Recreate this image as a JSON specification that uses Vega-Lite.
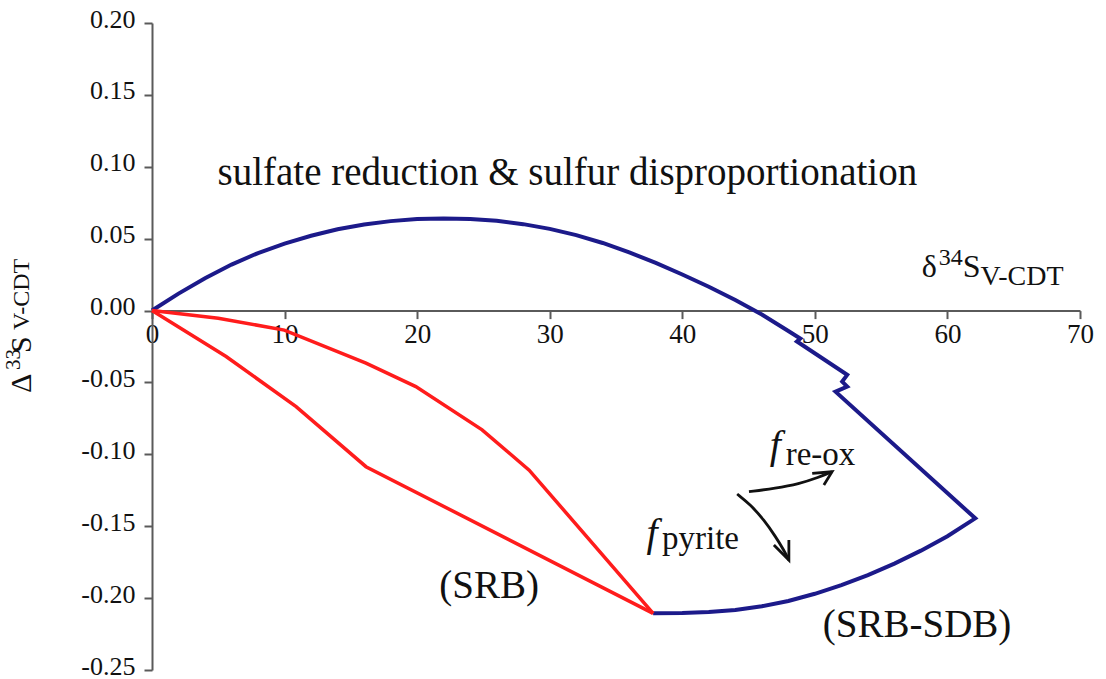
{
  "$schema": "https://vega.github.io/schema/vega-lite/v6.json",
  "width": 928,
  "height": 647,
  "autosize": {"type": "none"},
  "padding": {"left": 152, "top": 23, "right": 26, "bottom": 9},
  "background": "white",
  "config": {"view": {"stroke": null}, "font": "Liberation Serif"},
  "datasets": {
    "lines": [
      {"s": "blue", "i": 0, "x": 0, "y": 0},
      {"s": "blue", "i": 1, "x": 2, "y": 0.0118},
      {"s": "blue", "i": 2, "x": 4, "y": 0.0225},
      {"s": "blue", "i": 3, "x": 6, "y": 0.032},
      {"s": "blue", "i": 4, "x": 8, "y": 0.04},
      {"s": "blue", "i": 5, "x": 10, "y": 0.0465},
      {"s": "blue", "i": 6, "x": 12, "y": 0.052},
      {"s": "blue", "i": 7, "x": 14, "y": 0.0565},
      {"s": "blue", "i": 8, "x": 16, "y": 0.0598},
      {"s": "blue", "i": 9, "x": 18, "y": 0.0622},
      {"s": "blue", "i": 10, "x": 20, "y": 0.0636},
      {"s": "blue", "i": 11, "x": 22, "y": 0.0641},
      {"s": "blue", "i": 12, "x": 24, "y": 0.0637},
      {"s": "blue", "i": 13, "x": 26, "y": 0.0624},
      {"s": "blue", "i": 14, "x": 28, "y": 0.0601},
      {"s": "blue", "i": 15, "x": 30, "y": 0.0568},
      {"s": "blue", "i": 16, "x": 32, "y": 0.0525},
      {"s": "blue", "i": 17, "x": 34, "y": 0.047},
      {"s": "blue", "i": 18, "x": 36, "y": 0.0405},
      {"s": "blue", "i": 19, "x": 38, "y": 0.0331},
      {"s": "blue", "i": 20, "x": 40, "y": 0.0251},
      {"s": "blue", "i": 21, "x": 42, "y": 0.0166},
      {"s": "blue", "i": 22, "x": 44, "y": 0.0073},
      {"s": "blue", "i": 23, "x": 46, "y": -0.0027},
      {"s": "blue", "i": 24, "x": 48, "y": -0.0142},
      {"s": "blue", "i": 25, "x": 48.9, "y": -0.0195},
      {"s": "blue", "i": 26, "x": 48.65, "y": -0.0215},
      {"s": "blue", "i": 27, "x": 52.44, "y": -0.0447},
      {"s": "blue", "i": 28, "x": 52.06, "y": -0.0494},
      {"s": "blue", "i": 29, "x": 52.44, "y": -0.0529},
      {"s": "blue", "i": 30, "x": 51.56, "y": -0.0564},
      {"s": "blue", "i": 31, "x": 62.1, "y": -0.1445},
      {"s": "blue", "i": 32, "x": 60, "y": -0.157},
      {"s": "blue", "i": 33, "x": 58, "y": -0.167},
      {"s": "blue", "i": 34, "x": 56, "y": -0.176},
      {"s": "blue", "i": 35, "x": 54, "y": -0.184},
      {"s": "blue", "i": 36, "x": 52, "y": -0.191},
      {"s": "blue", "i": 37, "x": 50, "y": -0.197},
      {"s": "blue", "i": 38, "x": 48, "y": -0.202},
      {"s": "blue", "i": 39, "x": 46, "y": -0.2057},
      {"s": "blue", "i": 40, "x": 44, "y": -0.2082},
      {"s": "blue", "i": 41, "x": 42, "y": -0.2097},
      {"s": "blue", "i": 42, "x": 40, "y": -0.2104},
      {"s": "blue", "i": 43, "x": 37.8, "y": -0.2106},
      {"s": "red1", "i": 0, "x": 0, "y": 0},
      {"s": "red1", "i": 1, "x": 5, "y": -0.0053},
      {"s": "red1", "i": 2, "x": 9.98, "y": -0.0136},
      {"s": "red1", "i": 3, "x": 16.14, "y": -0.0366},
      {"s": "red1", "i": 4, "x": 19.9, "y": -0.0529},
      {"s": "red1", "i": 5, "x": 24.9, "y": -0.083},
      {"s": "red1", "i": 6, "x": 28.45, "y": -0.111},
      {"s": "red1", "i": 7, "x": 37.8, "y": -0.2106},
      {"s": "red2", "i": 0, "x": 0, "y": 0},
      {"s": "red2", "i": 1, "x": 5.59, "y": -0.032},
      {"s": "red2", "i": 2, "x": 10.87, "y": -0.0668},
      {"s": "red2", "i": 3, "x": 16.14, "y": -0.1086},
      {"s": "red2", "i": 4, "x": 37.8, "y": -0.2106},
      {"s": "arrow1", "i": 0, "x": 45.03, "y": -0.126},
      {"s": "arrow1", "i": 1, "x": 47.04, "y": -0.1236},
      {"s": "arrow1", "i": 2, "x": 48.79, "y": -0.1206},
      {"s": "arrow1", "i": 3, "x": 50.29, "y": -0.116},
      {"s": "arrow1", "i": 4, "x": 51.3, "y": -0.1121},
      {"s": "head1", "i": 0, "x": 49.8, "y": -0.1132},
      {"s": "head1", "i": 1, "x": 51.3, "y": -0.1121},
      {"s": "head1", "i": 2, "x": 50.68, "y": -0.1214},
      {"s": "arrow2", "i": 0, "x": 44.14, "y": -0.1276},
      {"s": "arrow2", "i": 1, "x": 45.16, "y": -0.1352},
      {"s": "arrow2", "i": 2, "x": 46.16, "y": -0.1456},
      {"s": "arrow2", "i": 3, "x": 47.04, "y": -0.1573},
      {"s": "arrow2", "i": 4, "x": 47.66, "y": -0.1666},
      {"s": "arrow2", "i": 5, "x": 48.04, "y": -0.1735},
      {"s": "head2", "i": 0, "x": 46.91, "y": -0.163},
      {"s": "head2", "i": 1, "x": 48.04, "y": -0.1735},
      {"s": "head2", "i": 2, "x": 48.04, "y": -0.1596}
    ],
    "notes": [
      {"role": "note", "t": "sulfate reduction & sulfur disproportionation", "x": 4.94, "y": 0.0874},
      {"role": "note", "t": "(SRB)", "x": 21.67, "y": -0.1996},
      {"role": "note", "t": "(SRB-SDB)", "x": 50.6, "y": -0.227},
      {"role": "xtitle", "t": "δ", "x": 58.07, "y": 0.0236},
      {"role": "xtitle", "t": "S", "x": 61.15, "y": 0.0236},
      {"role": "xsup", "t": "34", "x": 59.35, "y": 0.0317},
      {"role": "xsub", "t": "V-CDT", "x": 62.5, "y": 0.0178},
      {"role": "ytitle", "t": "Δ", "x": -9.11, "y": -0.0573},
      {"role": "ytitle", "t": "S", "x": -9.11, "y": -0.0295},
      {"role": "ysup", "t": "33", "x": -9.98, "y": -0.0413},
      {"role": "ysub", "t": "V-CDT", "x": -9.31, "y": -0.0135},
      {"role": "f", "t": "f", "x": 46.6, "y": -0.1025},
      {"role": "f", "t": "f", "x": 37.3, "y": -0.1638},
      {"role": "fsub", "t": "re-ox", "x": 47.8, "y": -0.1075},
      {"role": "fsub", "t": "pyrite", "x": 38.47, "y": -0.1659}
    ]
  },
  "encoding": {
    "x": {
      "field": "x",
      "type": "quantitative",
      "scale": {"domain": [0, 70], "nice": false, "zero": false},
      "axis": {
        "orient": "bottom",
        "offset": -359.4,
        "values": [0, 10, 20, 30, 40, 50, 60, 70],
        "title": null,
        "grid": false,
        "tickSize": 8,
        "tickWidth": 2,
        "domainWidth": 2,
        "domainColor": "#5a5a5a",
        "tickColor": "#5a5a5a",
        "labelFont": "Liberation Serif",
        "labelFontSize": 27,
        "labelColor": "#111111",
        "labelPadding": 3,
        "labelFlush": false,
        "labelOverlap": false
      }
    },
    "y": {
      "field": "y",
      "type": "quantitative",
      "scale": {"domain": [-0.25, 0.2], "nice": false, "zero": false},
      "axis": {
        "values": [-0.25, -0.2, -0.15, -0.1, -0.05, 0, 0.05, 0.1, 0.15, 0.2],
        "labelExpr": "datum.value < 0 ? '-' + format(-datum.value, '.2f') : format(datum.value, '.2f')",
        "title": null,
        "grid": false,
        "tickSize": 8,
        "tickWidth": 2,
        "domainWidth": 2,
        "domainColor": "#5a5a5a",
        "tickColor": "#5a5a5a",
        "labelFont": "Liberation Serif",
        "labelFontSize": 26,
        "labelOffset": -4,
        "labelColor": "#111111",
        "labelPadding": 9,
        "labelOverlap": false,
        "labelFlush": false
      }
    }
  },
  "layer": [
    {
      "data": {"name": "lines"},
      "transform": [{"filter": "datum.s === 'blue'"}],
      "mark": {"type": "line", "color": "#1c1a8a", "strokeWidth": 4, "strokeJoin": "miter"},
      "encoding": {"order": {"field": "i", "type": "quantitative"}}
    },
    {
      "data": {"name": "lines"},
      "transform": [{"filter": "datum.s === 'red1' || datum.s === 'red2'"}],
      "mark": {"type": "line", "color": "#ff1c1c", "strokeWidth": 3.5},
      "encoding": {"order": {"field": "i", "type": "quantitative"}, "detail": {"field": "s", "type": "nominal"}}
    },
    {
      "data": {"name": "lines"},
      "transform": [{"filter": "datum.s === 'arrow1' || datum.s === 'arrow2'"}],
      "mark": {"type": "line", "color": "#111111", "strokeWidth": 2.8, "interpolate": "basis"},
      "encoding": {"order": {"field": "i", "type": "quantitative"}, "detail": {"field": "s", "type": "nominal"}}
    },
    {
      "data": {"name": "lines"},
      "transform": [{"filter": "datum.s === 'head1' || datum.s === 'head2'"}],
      "mark": {"type": "line", "color": "#111111", "strokeWidth": 2.8},
      "encoding": {"order": {"field": "i", "type": "quantitative"}, "detail": {"field": "s", "type": "nominal"}}
    },
    {
      "data": {"name": "notes"},
      "transform": [{"filter": "datum.role === 'note'"}],
      "mark": {"type": "text", "align": "left", "baseline": "alphabetic", "fontSize": 39, "font": "Liberation Serif", "color": "#111111"},
      "encoding": {"text": {"field": "t"}}
    },
    {
      "data": {"name": "notes"},
      "transform": [{"filter": "datum.role === 'xtitle'"}],
      "mark": {"type": "text", "align": "left", "baseline": "alphabetic", "fontSize": 32, "font": "Liberation Serif", "color": "#111111"},
      "encoding": {"text": {"field": "t"}}
    },
    {
      "data": {"name": "notes"},
      "transform": [{"filter": "datum.role === 'xsup'"}],
      "mark": {"type": "text", "align": "left", "baseline": "alphabetic", "fontSize": 24, "font": "Liberation Serif", "color": "#111111"},
      "encoding": {"text": {"field": "t"}}
    },
    {
      "data": {"name": "notes"},
      "transform": [{"filter": "datum.role === 'xsub'"}],
      "mark": {"type": "text", "align": "left", "baseline": "alphabetic", "fontSize": 28, "font": "Liberation Serif", "color": "#111111"},
      "encoding": {"text": {"field": "t"}}
    },
    {
      "data": {"name": "notes"},
      "transform": [{"filter": "datum.role === 'ytitle'"}],
      "mark": {"type": "text", "align": "left", "baseline": "alphabetic", "angle": 270, "fontSize": 30, "font": "Liberation Serif", "color": "#111111"},
      "encoding": {"text": {"field": "t"}}
    },
    {
      "data": {"name": "notes"},
      "transform": [{"filter": "datum.role === 'ysup'"}],
      "mark": {"type": "text", "align": "left", "baseline": "alphabetic", "angle": 270, "fontSize": 21, "font": "Liberation Serif", "color": "#111111"},
      "encoding": {"text": {"field": "t"}}
    },
    {
      "data": {"name": "notes"},
      "transform": [{"filter": "datum.role === 'ysub'"}],
      "mark": {"type": "text", "align": "left", "baseline": "alphabetic", "angle": 270, "fontSize": 24, "font": "Liberation Serif", "color": "#111111"},
      "encoding": {"text": {"field": "t"}}
    },
    {
      "data": {"name": "notes"},
      "transform": [{"filter": "datum.role === 'f'"}],
      "mark": {"type": "text", "align": "left", "baseline": "alphabetic", "fontSize": 40, "fontStyle": "italic", "font": "Liberation Serif", "color": "#111111"},
      "encoding": {"text": {"field": "t"}}
    },
    {
      "data": {"name": "notes"},
      "transform": [{"filter": "datum.role === 'fsub'"}],
      "mark": {"type": "text", "align": "left", "baseline": "alphabetic", "fontSize": 33, "font": "Liberation Serif", "color": "#111111"},
      "encoding": {"text": {"field": "t"}}
    }
  ]
}
